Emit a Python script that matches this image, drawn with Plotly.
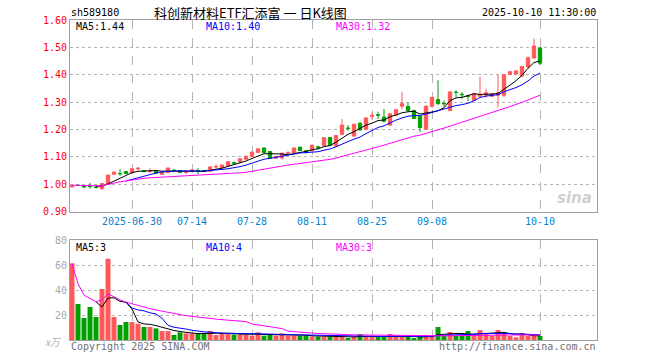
import pandas as pd
import plotly.graph_objects as go

# ---------------- data ----------------
holidays = pd.to_datetime(["2025-10-01", "2025-10-02", "2025-10-03", "2025-10-06", "2025-10-07", "2025-10-08"])
dates_idx = pd.bdate_range("2025-06-16", "2025-10-10")
dates = [d.strftime("%Y-%m-%d") for d in dates_idx if d not in holidays]

opens = [0.990, 0.996, 0.994, 0.993, 0.990, 0.983, 1.000, 1.036, 1.039, 1.046,
         1.041, 1.056, 1.049, 1.047, 1.049, 1.036, 1.043, 1.051, 1.049, 1.043,
         1.046, 1.049, 1.050, 1.047, 1.063, 1.061, 1.068, 1.078, 1.081, 1.091,
         1.101, 1.116, 1.132, 1.119, 1.095, 1.096, 1.113, 1.114, 1.135, 1.122,
         1.122, 1.136, 1.141, 1.170, 1.139, 1.182, 1.205, 1.176, 1.223, 1.201,
         1.248, 1.254, 1.245, 1.216, 1.253, 1.285, 1.284, 1.269, 1.248, 1.201,
         1.285, 1.309, 1.295, 1.269, 1.336, 1.328, 1.322, 1.306, 1.321, 1.325,
         1.321, 1.325, 1.325, 1.401, 1.403, 1.396, 1.428, 1.461, 1.498]
highs = [0.998, 0.999, 0.995, 1.005, 0.998, 1.004, 1.034, 1.046, 1.055, 1.048,
         1.058, 1.062, 1.050, 1.058, 1.050, 1.046, 1.060, 1.055, 1.051, 1.048,
         1.055, 1.058, 1.051, 1.064, 1.073, 1.071, 1.084, 1.083, 1.094, 1.106,
         1.119, 1.131, 1.134, 1.122, 1.104, 1.115, 1.120, 1.134, 1.137, 1.124,
         1.145, 1.141, 1.172, 1.172, 1.180, 1.238, 1.216, 1.221, 1.225, 1.244,
         1.263, 1.265, 1.275, 1.259, 1.274, 1.337, 1.298, 1.272, 1.250, 1.287,
         1.319, 1.380, 1.306, 1.339, 1.343, 1.337, 1.327, 1.333, 1.393, 1.349,
         1.333, 1.400, 1.402, 1.413, 1.417, 1.432, 1.467, 1.532, 1.500]
lows = [0.988, 0.993, 0.985, 0.984, 0.984, 0.980, 0.998, 1.034, 1.031, 1.037,
        1.040, 1.049, 1.045, 1.040, 1.039, 1.035, 1.042, 1.044, 1.041, 1.037,
        1.045, 1.036, 1.045, 1.046, 1.056, 1.060, 1.066, 1.071, 1.079, 1.089,
        1.099, 1.115, 1.113, 1.092, 1.092, 1.089, 1.107, 1.112, 1.121, 1.113,
        1.120, 1.126, 1.139, 1.140, 1.137, 1.180, 1.195, 1.174, 1.196, 1.199,
        1.235, 1.238, 1.226, 1.214, 1.251, 1.275, 1.264, 1.238, 1.190, 1.199,
        1.279, 1.290, 1.281, 1.267, 1.318, 1.312, 1.304, 1.304, 1.318, 1.316,
        1.319, 1.281, 1.318, 1.399, 1.401, 1.390, 1.426, 1.459, 1.436]
closes = [0.996, 0.995, 0.990, 0.991, 0.988, 1.002, 1.033, 1.044, 1.038, 1.039,
          1.056, 1.058, 1.046, 1.049, 1.040, 1.044, 1.059, 1.050, 1.043, 1.045,
          1.052, 1.048, 1.046, 1.063, 1.064, 1.070, 1.082, 1.077, 1.093, 1.101,
          1.117, 1.129, 1.115, 1.094, 1.101, 1.113, 1.115, 1.132, 1.123, 1.115,
          1.142, 1.135, 1.170, 1.142, 1.178, 1.216, 1.204, 1.219, 1.198, 1.242,
          1.251, 1.252, 1.230, 1.257, 1.272, 1.294, 1.269, 1.240, 1.207, 1.285,
          1.317, 1.294, 1.294, 1.337, 1.335, 1.327, 1.321, 1.331, 1.327, 1.334,
          1.331, 1.334, 1.400, 1.411, 1.414, 1.430, 1.462, 1.505, 1.442]
volumes = [61.3, 28.8, 17.6, 26.4, 18.4, 40.8, 65.0, 18.4, 12.0, 14.4,
           14.4, 13.0, 10.4, 10.4, 9.3, 7.2, 7.2, 4.0, 6.1, 5.3,
           5.3, 5.3, 5.3, 7.2, 4.0, 5.3, 5.3, 4.5, 4.5, 4.5,
           3.5, 6.1, 3.5, 4.0, 3.5, 5.3, 3.5, 3.5, 3.5, 3.5,
           2.7, 2.7, 2.7, 2.7, 2.7, 2.7, 1.6, 2.7, 4.8, 2.7,
           2.7, 2.7, 2.7, 4.8, 2.7, 2.7, 2.7, 1.6, 2.7, 4.0,
           2.7, 10.4, 3.2, 6.4, 3.2, 3.2, 7.2, 3.2, 8.0, 5.3,
           3.2, 8.0, 5.9, 3.2, 2.1, 5.3, 3.2, 3.2, 3.2]

tick_dates = ["2025-06-30", "2025-07-14", "2025-07-28", "2025-08-11", "2025-08-25", "2025-09-08", "2025-10-10"]
tick_labels = ["2025-06-30", "07-14", "07-28", "08-11", "08-25", "09-08", "10-10"]
price_ticks = [0.90, 1.00, 1.10, 1.20, 1.30, 1.40, 1.50, 1.60]
vol_ticks = [20, 40, 60, 80]

symbol = "sh589180"
title_text = "科创新材料ETF汇添富 一 日K线图"
time_text = "2025-10-10 11:30:00"
price_ma_labels = ["MA5:1.44", "MA10:1.40", "MA30:1.32"]
vol_ma_labels = ["MA5:3", "MA10:4", "MA30:3"]

# ---------------- derived ----------------
cs = pd.Series(closes)
vs = pd.Series(volumes)
ma5 = cs.rolling(5).mean()
ma10 = cs.rolling(10).mean()
ma30 = cs.rolling(30, min_periods=1).mean()
vma5 = vs.rolling(5).mean()
vma10 = vs.rolling(10).mean()
vma30 = vs.rolling(30, min_periods=1).mean()

RED = "#FF5858"
GREEN = "#00A000"
MA_COLORS = ["#000000", "#0000FF", "#FF00FF"]
MONO = "DejaVu Sans Mono"
GRID = "#b4b4b4"
BORDER = "#a0a0a0"

bar_colors = [RED if c >= o else GREEN for o, c in zip(opens, closes)]

fig = go.Figure()
fig.add_trace(go.Candlestick(
    x=dates, open=opens, high=highs, low=lows, close=closes,
    increasing=dict(line=dict(color=RED, width=1), fillcolor=RED),
    decreasing=dict(line=dict(color=GREEN, width=1), fillcolor=GREEN),
    whiskerwidth=0, xaxis="x", yaxis="y", showlegend=False, hoverinfo="skip"))
for s, col in zip([ma5, ma10, ma30], MA_COLORS):
    fig.add_trace(go.Scatter(x=dates, y=s, mode="lines", line=dict(color=col, width=1),
                             xaxis="x", yaxis="y", showlegend=False, hoverinfo="skip"))

fig.add_trace(go.Bar(x=dates, y=volumes, marker=dict(color=bar_colors, line=dict(width=0)),
                     xaxis="x2", yaxis="y2", showlegend=False, hoverinfo="skip"))
for s, col in zip([vma5, vma10, vma30], MA_COLORS):
    fig.add_trace(go.Scatter(x=dates, y=s, mode="lines", line=dict(color=col, width=1),
                             xaxis="x2", yaxis="y2", showlegend=False, hoverinfo="skip"))

# pixel helpers
L, R, T, B = 70, 63, 20, 20
W, H = 660, 360
PW, PH = W - L - R, H - T - B
def px(x): return (x - L) / PW
def py(y): return (H - B - y) / PH

xrange = [-1/3, -1/3 + PW / 6.0]

common_x = dict(type="category", range=xrange, tickvals=tick_dates, showgrid=True,
                gridcolor=GRID, griddash="dash", gridwidth=1, showline=True, linecolor=BORDER,
                linewidth=1, mirror=True, ticks="", zeroline=False, fixedrange=True)

fig.update_layout(
    width=W, height=H, margin=dict(l=L, r=R, t=T, b=B),
    paper_bgcolor="white", plot_bgcolor="white",
    bargap=0.17, boxgap=0.2,
    xaxis=dict(common_x, domain=[0, 1], anchor="y", ticktext=tick_labels,
               tickfont=dict(family=MONO, size=10, color="#0A7FD0"),
               rangeslider=dict(visible=False)),
    yaxis=dict(domain=[py(211.5), 1], range=[0.90, 1.60], tickvals=price_ticks,
               tickformat=".2f", tickfont=dict(family=MONO, size=10, color="#FF0000"),
               showgrid=True, gridcolor=GRID, griddash="dot", showline=True,
               linecolor=BORDER, mirror=True, ticks="", zeroline=False, fixedrange=True),
    xaxis2=dict(common_x, domain=[0, 1], anchor="y2", matches="x", showticklabels=False),
    yaxis2=dict(domain=[0, py(240)], range=[0, 80], tickvals=vol_ticks,
                tickfont=dict(family=MONO, size=10, color="#A8A8A8"),
                showgrid=True, gridcolor=GRID, griddash="dot", showline=True,
                linecolor=BORDER, mirror=True, ticks="", zeroline=False, fixedrange=True),
)

ann = []
def add_text(text, x, y, color="#000", size=10, family=MONO, xanchor="left", **kw):
    ann.append(dict(text=text, x=px(x), y=py(y), xref="paper", yref="paper",
                    xanchor=xanchor, yanchor="middle", showarrow=False,
                    font=dict(family=family, size=size, color=color), **kw))

add_text(symbol, 69, 13)
add_text(title_text, 250, 12, size=13, family="Noto Sans CJK SC", xanchor="center")
add_text(time_text, 598, 13, xanchor="right")
for lab, col, x in zip(price_ma_labels, MA_COLORS, [74, 204, 334]):
    add_text(lab, x, 26, color=col)
for lab, col, x in zip(vol_ma_labels, MA_COLORS, [74, 204, 334]):
    add_text(lab, x, 247, color=col)
add_text("Copyright 2025 SINA.COM", 69, 346, color="#707070")
add_text("http://finance.sina.com.cn", 598, 346, color="#707070", xanchor="right")
add_text("<i>x万</i>", 64, 341, color="#B0B0B0", size=10, family="Noto Sans CJK SC", xanchor="right")
add_text("<b><i>sina</i></b>", 594, 198, color="#D0D0D0", size=15, family="DejaVu Sans", xanchor="right")
fig.update_layout(annotations=ann)

fig.write_html("out.html", config={"displayModeBar": False, "staticPlot": True},
               post_script="document.body.style.margin='0px';document.body.style.padding='0px';")
